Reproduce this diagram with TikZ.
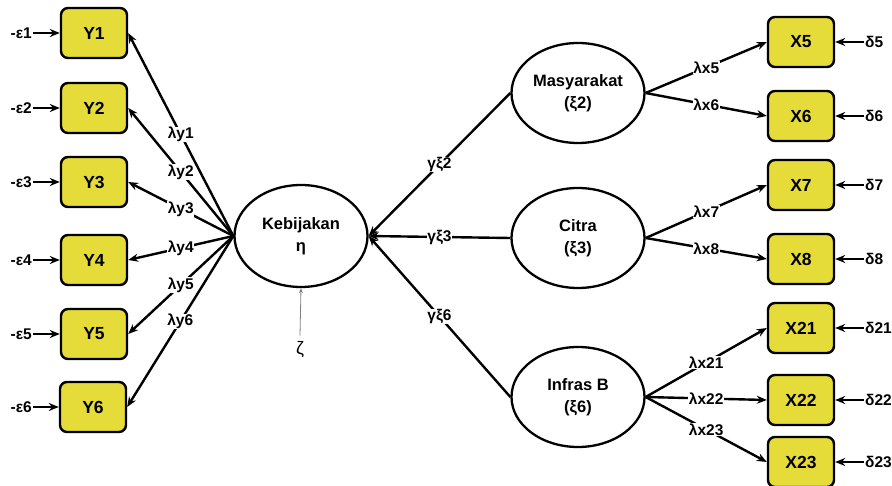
\documentclass[tikz,border=0pt]{standalone}
\usepackage{fontspec}
\setmainfont{Liberation Sans}
\usetikzlibrary{arrows.meta,shapes.geometric}
\definecolor{boxyellow}{RGB}{229,220,58}
\begin{document}
\begin{tikzpicture}[x=1pt,y=-1pt,
  obs/.style={draw=black, line width=2.4pt, fill=boxyellow, rounded corners=7pt,
    minimum width=66pt, minimum height=50pt, inner sep=0pt,
    font=\fontsize{17.5}{20}\selectfont\bfseries},
  lat/.style={draw=black, line width=2.3pt, ellipse, minimum width=133pt,
    minimum height=100pt, inner sep=0pt, align=center,
    font=\fontsize{16.5}{22}\selectfont\bfseries},
  link/.style={line width=2.4pt, -{Stealth[length=10pt,width=8pt]}},
  lbl/.style={fill=white, inner sep=0.5pt, font=\fontsize{15.5}{17}\selectfont\bfseries},
  err/.style={inner sep=1pt, font=\fontsize{15.5}{17}\selectfont\bfseries}
]
\useasboundingbox (0,0) rectangle (892,486);

% latent variables
\node[lat, minimum height=102pt] (keb) at (301,236) {Kebijakan\\η};
\node[lat] (masy) at (578,93) {Masyarakat\\(ξ2)};
\node[lat] (citra) at (578,238) {Citra\\(ξ3)};
\node[lat] (infra) at (578,397) {Infras B\\(ξ6)};

% endogenous indicators
\node[obs] (y1) at (94,33) {Y1};
\node[obs] (y2) at (94,108) {Y2};
\node[obs] (y3) at (94,182) {Y3};
\node[obs] (y4) at (94,260) {Y4};
\node[obs] (y5) at (94,334) {Y5};
\node[obs] (y6) at (93,407) {Y6};

% exogenous indicators
\node[obs] (x5) at (801,42) {X5};
\node[obs] (x6) at (801,116) {X6};
\node[obs] (x7) at (801,185) {X7};
\node[obs] (x8) at (801,259) {X8};
\node[obs] (x21) at (801,328) {X21};
\node[obs] (x22) at (801,400) {X22};
\node[obs] (x23) at (801,462) {X23};

% measurement errors
\foreach \i/\yy in {1/33,2/108,3/182,4/260,5/334,6/407}{
  \node[err, anchor=east] (e\i) at (33,\yy) {-ε\i};
  \draw[link] (e\i.east) -- (y\i.west);
}
\foreach \i/\yy in {5/42,6/116,7/185,8/259,21/328,22/400,23/462}{
  \node[err, anchor=west] (d\i) at (864,\yy) {δ\i};
  \draw[link] (d\i.west) -- (x\i.east);
}

% loadings of eta
\foreach \i in {1,...,6}{
  \draw[link] (keb.west) -- node[lbl]{λy\i} (y\i.east);
}

% loadings of the exogenous constructs
\draw[link] (masy.east) -- node[lbl]{λx5} (x5.west);
\draw[link] (masy.east) -- node[lbl]{λx6} (x6.west);
\draw[link] (citra.east) -- node[lbl]{λx7} (x7.west);
\draw[link] (citra.east) -- node[lbl]{λx8} (x8.west);
\draw[link] (infra.east) -- node[lbl]{λx21} (x21.west);
\draw[link] (infra.east) -- node[lbl]{λx22} (x22.west);
\draw[link] (infra.east) -- node[lbl]{λx23} (x23.west);

% structural paths
\draw[link] (masy.west) -- node[lbl]{γξ2} (keb.east);
\draw[link] (citra.west) -- node[lbl]{γξ3} (keb.east);
\draw[link] (infra.west) -- node[lbl]{γξ6} (keb.east);

% disturbance
\node[inner sep=0pt, font=\fontsize{18}{20}\selectfont] (zeta) at (300,350) {ζ};
\draw[gray, line width=0.8pt, -{Stealth[length=5pt,width=4pt]}]
  ([yshift=6pt]zeta.north) -- (keb.south);
\end{tikzpicture}
\end{document}
